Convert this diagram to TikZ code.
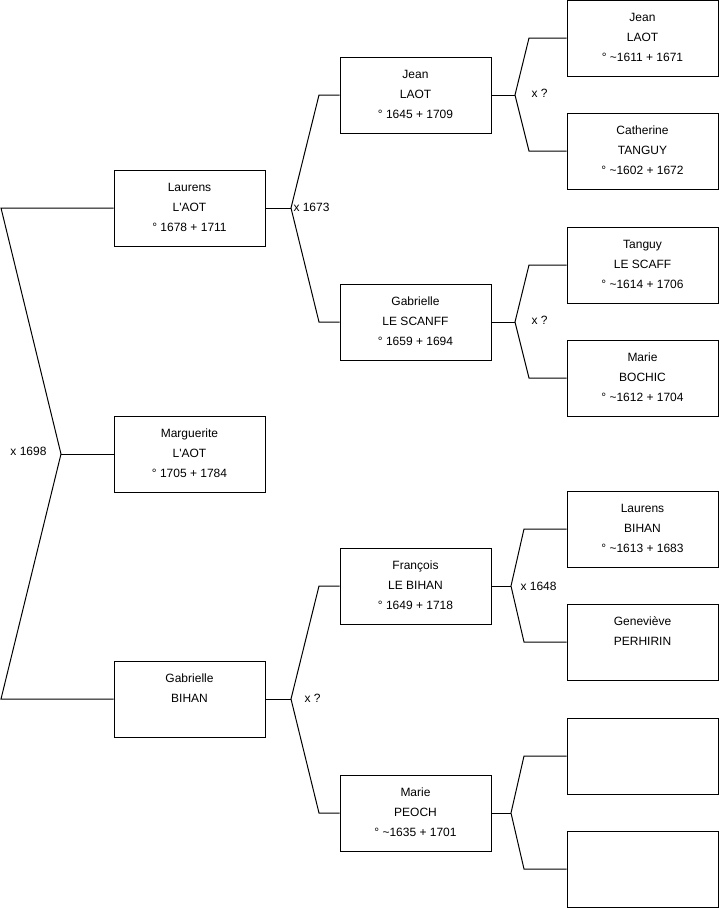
\documentclass[tikz,border=0pt]{standalone}
\usepackage{fontspec}
\setmainfont{Liberation Sans}
% one strut per line keeps every box top aligned
\newcommand{\lnstrut}{\rule[-7pt]{0pt}{20pt}}
\newcommand{\who}[3]{\lnstrut#1\\\lnstrut#2\\\lnstrut#3}
\newcommand{\tld}{\textasciitilde}

\begin{document}
\begin{tikzpicture}[x=1pt,y=-1pt,line width=1pt,
  person/.style={draw, rectangle, minimum width=151pt, minimum height=76pt, inner sep=0pt, align=center, font=\fontsize{12}{20}\selectfont},
  marr/.style={inner sep=0pt, font=\fontsize{12}{14}\selectfont}]
\useasboundingbox (0,0) rectangle (719,908);

% generation 1
\node[person] (laurens) at (189.5,208) {\who{Laurens}{L\textquotesingle AOT}{° 1678 + 1711}};
\node[person] (marguerite) at (189.5,454) {\who{Marguerite}{L\textquotesingle AOT}{° 1705 + 1784}};
\node[person] (gabrielle) at (189.5,699) {\who{Gabrielle}{BIHAN}{}};

% generation 2
\node[person] (jean) at (415.5,95) {\who{Jean}{LAOT}{° 1645 + 1709}};
\node[person] (scanff) at (415.5,322) {\who{Gabrielle}{LE SCANFF}{° 1659 + 1694}};
\node[person] (francois) at (415.5,586) {\who{François}{LE BIHAN}{° 1649 + 1718}};
\node[person] (peoch) at (415.5,813) {\who{Marie}{PEOCH}{° \tld1635 + 1701}};

% generation 3
\node[person] (jeanp) at (642.5,38) {\who{Jean}{LAOT}{° \tld1611 + 1671}};
\node[person] (catherine) at (642.5,151) {\who{Catherine}{TANGUY}{° \tld1602 + 1672}};
\node[person] (tanguy) at (642.5,265) {\who{Tanguy}{LE SCAFF}{° \tld1614 + 1706}};
\node[person] (bochic) at (642.5,378) {\who{Marie}{BOCHIC}{° \tld1612 + 1704}};
\node[person] (lbihan) at (642.5,529) {\who{Laurens}{BIHAN}{° \tld1613 + 1683}};
\node[person] (genevieve) at (642.5,642) {\who{Geneviève}{PERHIRIN}{}};
\node[person] (blanka) at (642.5,756) {};
\node[person] (blankb) at (642.5,869) {};

% forks
\coordinate (fa) at (61,454);
\coordinate (fa1) at (1,208);
\coordinate (fa2) at (1,699);
\draw (marguerite.west) -- (fa);
\draw (laurens.west) -- (fa1) -- (fa) -- (fa2) -- (gabrielle.west);
\node[marr, anchor=east] (m1698) at (47,451) {x 1698};

\coordinate (fb) at (291,208);
\coordinate (fb1) at (319,95);
\coordinate (fb2) at (319,322);
\draw (jean.west) -- (fb1) -- (fb) -- (fb2) -- (scanff.west);
\draw (laurens.east) -- (fb);
\node[marr, anchor=west] (m1673) at (293,207) {x 1673};

\coordinate (fc) at (291,699);
\coordinate (fc1) at (319,586);
\coordinate (fc2) at (319,813);
\draw (francois.west) -- (fc1) -- (fc) -- (fc2) -- (peoch.west);
\draw (gabrielle.east) -- (fc);
\node[marr, anchor=west] (mgab) at (304,698) {x ?};

\coordinate (fd) at (515,95);
\coordinate (fd1) at (529,38);
\coordinate (fd2) at (529,151);
\draw (jeanp.west) -- (fd1) -- (fd) -- (fd2) -- (catherine.west);
\draw (jean.east) -- (fd);
\node[marr, anchor=west] (mjean) at (531,93) {x ?};

\coordinate (fe) at (515,322);
\coordinate (fe1) at (529,265);
\coordinate (fe2) at (529,378);
\draw (tanguy.west) -- (fe1) -- (fe) -- (fe2) -- (bochic.west);
\draw (scanff.east) -- (fe);
\node[marr, anchor=west] (mscanff) at (531,320) {x ?};

\coordinate (ff) at (511,586);
\coordinate (ff1) at (524,529);
\coordinate (ff2) at (524,642);
\draw (lbihan.west) -- (ff1) -- (ff) -- (ff2) -- (genevieve.west);
\draw (francois.east) -- (ff);
\node[marr, anchor=west] (m1648) at (520,586) {x 1648};

\coordinate (fg) at (511,813);
\coordinate (fg1) at (524,756);
\coordinate (fg2) at (524,869);
\draw (blanka.west) -- (fg1) -- (fg) -- (fg2) -- (blankb.west);
\draw (peoch.east) -- (fg);
\end{tikzpicture}
\end{document}
